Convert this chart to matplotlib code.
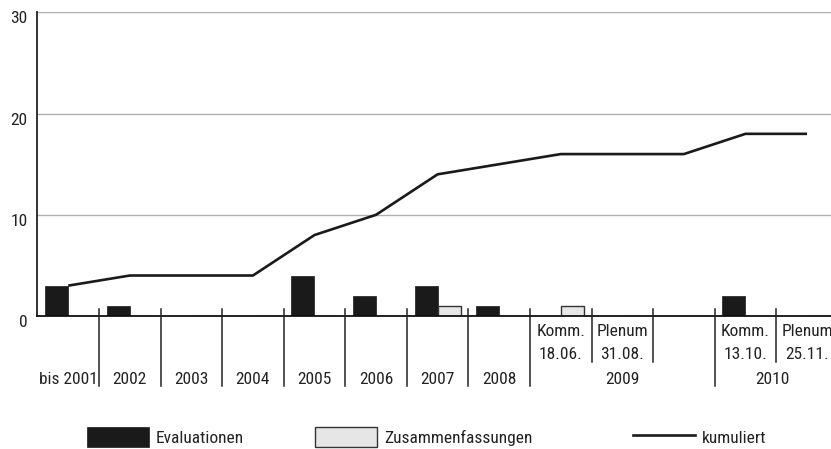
import matplotlib
matplotlib.use("Agg")
import matplotlib.pyplot as plt
import matplotlib.transforms as mtransforms
from matplotlib import font_manager
from matplotlib.patches import Patch
from matplotlib.lines import Line2D
import numpy as np

# ---- data ----
categories = ['bis 2001', '2002', '2003', '2004', '2005', '2006', '2007', '2008',
              'Komm.\n18.06.', 'Plenum\n31.08.', '', 'Komm.\n13.10.', 'Plenum\n25.11.']
evaluationen = [3, 1, 0, 0, 4, 2, 3, 1, 0, 0, 0, 2, 0]
zusammenfassungen = [0, 0, 0, 0, 0, 0, 1, 0, 1, 0, 0, 0, 0]
kumuliert = [3, 4, 4, 4, 8, 10, 14, 15, 16, 16, 16, 18, 18]
year_groups = [('2009', 7.5, 10.5), ('2010', 10.5, None)]
yticks = [0, 10, 20, 30]

available = {f.name for f in font_manager.fontManager.ttflist}
if 'Roboto Condensed' in available:
    plt.rcParams['font.family'] = ['Roboto Condensed', 'DejaVu Sans']
    FS = 12.5
elif 'Liberation Sans Narrow' in available:
    plt.rcParams['font.family'] = ['Liberation Sans Narrow', 'DejaVu Sans']
    FS = 12.5
else:
    plt.rcParams['font.family'] = ['Liberation Sans', 'DejaVu Sans']
    FS = 11
TXT = '#222222'

W, H = 831, 449
fig = plt.figure(figsize=(W / 100, H / 100), dpi=100)
ax_left = 37.45 / W
ax_bottom = (H - 316) / H
ax_h = 303.6 / H
ax = fig.add_axes([ax_left, ax_bottom, 1 - ax_left, ax_h])

x = np.arange(len(categories))
bw = 0.375
ax.bar(x - bw / 2, evaluationen, width=bw, color='#1a1a1a', edgecolor='#1a1a1a',
       linewidth=0.5, zorder=3)
ax.bar(x + bw / 2, zusammenfassungen, width=bw, color='#e6e6e6', edgecolor='#333333',
       linewidth=1.0, zorder=3)
ax.plot(x, kumuliert, color='#1a1a1a', linewidth=1.9, zorder=4, solid_capstyle='butt')

xmax = 12.39
ax.set_xlim(-0.5, xmax)
ax.set_ylim(0, 30)
ax.set_yticks(yticks)
ax.set_yticklabels([str(v) for v in yticks], fontsize=FS, color=TXT)
ax.tick_params(axis='y', length=0, pad=7)
ax.set_xticks([])
for lab in ax.get_yticklabels():
    lab.set_transform(lab.get_transform() +
                      mtransforms.ScaledTranslation(0, -5 / 100, fig.dpi_scale_trans))

ax.grid(axis='y', color='#b0b0b0', linewidth=1.0, zorder=0)
ax.set_axisbelow(True)
for s in ['top', 'right']:
    ax.spines[s].set_visible(False)
ax.spines['left'].set_color('#222222')
ax.spines['left'].set_linewidth(1.3)
ax.spines['bottom'].set_color('#111111')
ax.spines['bottom'].set_linewidth(1.3)
ax.spines['bottom'].set_zorder(5)

# separators below axis
trans = mtransforms.blended_transform_factory(ax.transData, ax.transAxes)
y_top = 7 / 303.6
y_long = -70 / 303.6
y_short = -46 / 303.6
long_seps = [0.5, 1.5, 2.5, 3.5, 4.5, 5.5, 6.5, 7.5, 10.5]
short_seps = [8.5, 9.5, 11.5]
for sx in long_seps:
    ax.plot([sx, sx], [y_top, y_long], transform=trans, color='#222222',
            linewidth=1.1, clip_on=False, zorder=6)
for sx in short_seps:
    ax.plot([sx, sx], [y_top, y_short], transform=trans, color='#222222',
            linewidth=1.1, clip_on=False, zorder=6)

# category labels
y_year = -64 / 303.6
y_l1 = -15 / 303.6
y_l2 = -38.5 / 303.6
for i, c in enumerate(categories):
    if not c:
        continue
    if '\n' in c:
        l1, l2 = c.split('\n')
        ax.text(i, y_l1, l1, transform=trans, ha='center', va='center', fontsize=FS, color=TXT)
        ax.text(i, y_l2, l2, transform=trans, ha='center', va='center', fontsize=FS, color=TXT)
    else:
        ax.text(i, y_year, c, transform=trans, ha='center', va='center', fontsize=FS, color=TXT)
for name, a, b in year_groups:
    b = xmax if b is None else b
    ax.text((a + b) / 2, y_year, name, transform=trans, ha='center', va='center',
            fontsize=FS, color=TXT)

# legend entries
fs_px = FS * 100 / 72
hl = 62 / fs_px
hh = 23 / fs_px
htp = 7 / fs_px
leg_y = 1 - 437 / H
entries = [
    (87, Patch(facecolor='#1a1a1a', edgecolor='#1a1a1a', linewidth=0.5), 'Evaluationen'),
    (315, Patch(facecolor='#e6e6e6', edgecolor='#333333', linewidth=1.0), 'Zusammenfassungen'),
    (633, Line2D([], [], color='#1a1a1a', linewidth=1.9), 'kumuliert'),
]
for px, h, lbl in entries:
    fig.legend([h], [lbl], loc='center left', bbox_to_anchor=(px / W, leg_y),
               frameon=False, borderpad=0, borderaxespad=0, handlelength=hl,
               handleheight=hh, handletextpad=htp, fontsize=FS, labelcolor=TXT)

fig.savefig('out.png', dpi=100)
